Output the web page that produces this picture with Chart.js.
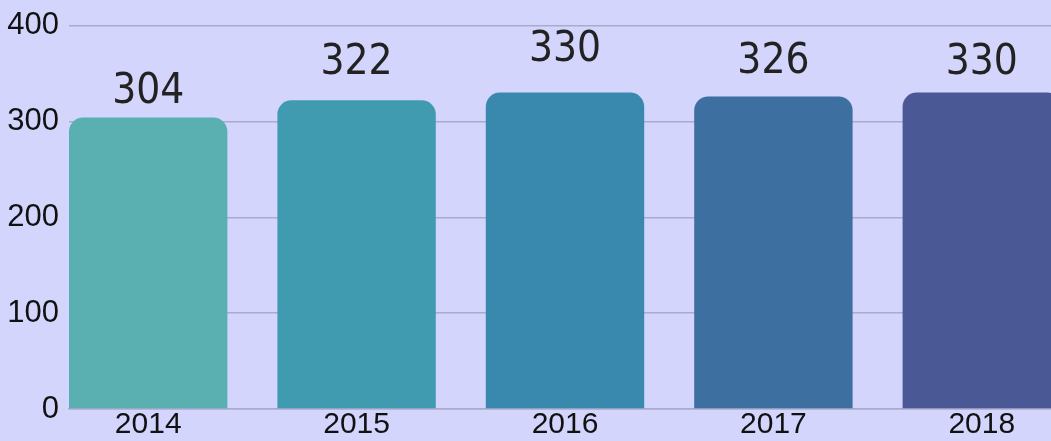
<!DOCTYPE html>
<html>
<head>
<meta charset="utf-8">
<script src="https://cdn.jsdelivr.net/npm/chart.js@4"></script>
<style>
  html, body { margin: 0; padding: 0; background: #d3d5fd; overflow: hidden; }
  #wrap { position: relative; width: 1086px; height: 441px; }
</style>
</head>
<body>
<div id="wrap"><canvas id="chart"></canvas></div>
<script>
// Dữ liệu biểu đồ
const years = ["2014", "2015", "2016", "2017", "2018"];
const values = [304, 322, 330, 326, 330];
const yTicks = [0, 100, 200, 300, 400];

// Màu cột
const barColors = ["#5aafb0", "#419bb0", "#3889ad", "#3d6fa0", "#4a5996"];
// Khoảng cách từ đỉnh cột tới chân chữ số (px)
const labelGap = [15, 26, 32, 23, 19];

// Plugin vẽ nhãn giá trị phía trên cột
const valueLabels = {
  id: "valueLabels",
  afterDatasetsDraw(chart) {
    const ctx = chart.ctx;
    const meta = chart.getDatasetMeta(0);
    ctx.save();
    ctx.font = "42px 'DejaVu Sans Condensed'";
    ctx.fillStyle = "#222222";
    ctx.textAlign = "center";
    ctx.textBaseline = "alphabetic";
    meta.data.forEach((bar, i) => {
      ctx.fillText(String(values[i]), bar.x, bar.y - labelGap[i]);
    });
    ctx.restore();
  }
};

new Chart(document.getElementById("chart"), {
  type: "bar",
  data: {
    datasets: [{
      data: values.map((v, i) => ({ x: i, y: v })),
      backgroundColor: barColors,
      borderRadius: { topLeft: 14, topRight: 14, bottomLeft: 0, bottomRight: 0 },
      borderSkipped: false,
      barPercentage: 0.76,
      categoryPercentage: 1
    }]
  },
  options: {
    responsive: true,
    maintainAspectRatio: false,
    animation: false,
    layout: { padding: { top: 0, right: 0, bottom: 0, left: 0 } },
    plugins: { legend: { display: false }, tooltip: { enabled: false } },
    scales: {
      x: {
        type: "linear",
        min: -0.38,
        max: 4.5,
        offset: false,
        afterBuildTicks(axis) { axis.ticks = years.map((y, i) => ({ value: i })); },
        grid: { display: false, drawTicks: false },
        border: { color: "#a9abc9", width: 1.5 },
        ticks: {
          color: "#111111",
          font: { family: "'Liberation Sans'", size: 30, lineHeight: 1.0 },
          padding: 1,
          maxRotation: 0,
          autoSkip: false,
          callback: (v) => years[v]
        }
      },
      y: {
        min: 0,
        max: 400,
        afterBuildTicks(axis) { axis.ticks = yTicks.map(v => ({ value: v })); },
        afterFit(axis) { axis.width = 69; },
        grid: { color: "#a9abc9", lineWidth: 1.5, drawTicks: false },
        border: { display: false },
        ticks: { color: "#111111", font: { family: "'Liberation Sans'", size: 31, lineHeight: 1.0 }, padding: 10 }
      }
    }
  },
  plugins: [valueLabels]
});
</script>
</body>
</html>
